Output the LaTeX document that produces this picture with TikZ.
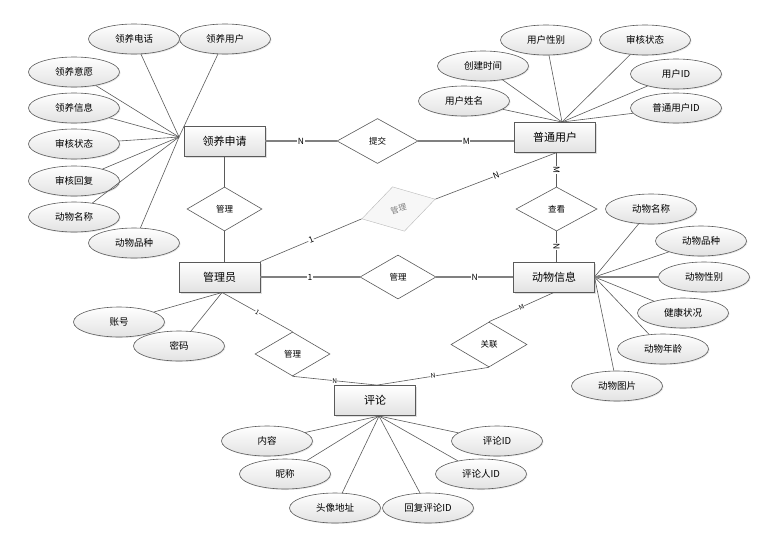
\documentclass[tikz,border=0pt]{standalone}
\usepackage{fontspec}
\setmainfont{Noto Sans CJK SC}
\usetikzlibrary{shapes.geometric,shadows,calc}
\definecolor{edge}{HTML}{5A5A5A}
\definecolor{shadegray}{HTML}{E2E2E2}
\begin{document}
\begin{tikzpicture}[x=1pt,y=-1pt,
 ent/.style={draw=edge, line width=0.8pt, rectangle, minimum width=81pt, minimum height=30pt, top color=white, bottom color=shadegray, font=\fontsize{11}{12}\selectfont, inner sep=0pt, drop shadow={opacity=0.25,shadow xshift=1.5pt,shadow yshift=-1.5pt}},
 attr/.style={draw=edge, line width=0.6pt, ellipse, minimum width=91pt, minimum height=30pt, top color=white, bottom color=shadegray, font=\fontsize{9.5}{10}\selectfont, inner sep=0pt, drop shadow={opacity=0.2,shadow xshift=1pt,shadow yshift=-1pt}},
 rel/.style={draw=edge, line width=0.6pt, diamond, fill=white, minimum width=78pt, minimum height=45pt, inner sep=0pt, font=\fontsize{8.5}{9}\selectfont},
 conn/.style={draw=edge, line width=0.6pt},
 mainconn/.style={draw=gray, line width=1.3pt},
 card/.style={fill=white, inner sep=0.5pt, font=\fontsize{8.5}{9}\selectfont},
 smallcard/.style={fill=white, inner sep=0.3pt, font=\fontsize{6.5}{7}\selectfont}
]
\useasboundingbox (0,0) rectangle (778,533);

% entities
\node[ent] (lysq) at (224.5,141) {领养申请};
\node[ent] (pt) at (555,137) {普通用户};
\node[ent] (gly) at (219.5,277) {管理员};
\node[ent] (dw) at (554,277) {动物信息};
\node[ent] (pl) at (375,400.5) {评论};

% relationships
\node[rel, minimum width=81pt] (tj) at (377.5,141) {提交};
\node[rel, minimum width=75pt, minimum height=44pt] (gl1) at (224.5,209) {管理};
\node[rel, minimum width=81pt, minimum height=44pt] (ck) at (556.5,209) {查看};
\node[rel, minimum width=76pt, minimum height=44pt] (gl2) at (398,277) {管理};
\node[rel, minimum width=75pt, minimum height=44pt] (gl3) at (292.5,354) {管理};
\node[rel, minimum width=76pt] (gll) at (489,344.5) {关联};
\node[diamond, draw=gray!55, fill=gray!6, text=gray, minimum width=76pt, minimum height=46pt, inner sep=0pt, rotate=15, font=\fontsize{8}{9}\selectfont] (gg) at (398.5,209) {管理};

% relationship connectors
\draw[mainconn] (lysq.east) -- node[card]{N} (tj.west);
\draw[mainconn] (tj.east) -- node[card]{M} (tj.east -| pt.west);
\draw[conn] (lysq.south) -- (gl1.north);
\draw[conn] (gl1.south) -- (gl1.south |- gly.north);
\draw[conn] (gly.north east) -- node[card, sloped]{1} (gg.west);
\draw[conn] (gg.east) -- node[card, sloped]{N} ($(pt.south)+(2,0)$);
\draw[conn] ($(pt.south)+(1.5,0)$) -- node[card, sloped]{M} (ck.north);
\draw[conn] (ck.south) -- node[card, sloped]{N} ($(dw.north)+(2.5,0)$);
\draw[mainconn] (gly.east) -- node[card]{1} (gl2.west);
\draw[mainconn] (gl2.east) -- node[card]{N} (dw.west);
\draw[conn] ($(gly.south)+(2.5,0)$) -- node[smallcard, sloped]{1} (gl3.north);
\draw[conn] (gl3.south) -- node[smallcard]{N} ($(pl.north)+(2,0)$);
\draw[conn] ($(pl.north)+(2,0)$) -- node[smallcard, sloped]{N} (gll.south);
\draw[conn] (gll.north) -- node[smallcard, sloped]{M} (dw.south);

% 领养申请 attributes
\coordinate (h1) at (179,137);
\node[attr] (a1) at (134,39) {领养电话};
\node[attr] (a2) at (225,39) {领养用户};
\node[attr] (a3) at (74,72) {领养意愿};
\node[attr] (a4) at (74,108) {领养信息};
\node[attr] (a5) at (74,144) {审核状态};
\node[attr] (a6) at (74,181) {审核回复};
\node[attr] (a7) at (74,217) {动物名称};
\node[attr] (a8) at (134,243) {动物品种};
\foreach \a in {a1,a2,a3,a4,a5,a6,a7,a8} \draw[conn] (\a) -- (h1);

% 普通用户 attributes
\coordinate (h2) at (562,122);
\node[attr] (b1) at (546,40) {用户性别};
\node[attr] (b2) at (645,40) {审核状态};
\node[attr] (b3) at (483,66) {创建时间};
\node[attr] (b4) at (676,74) {用户ID};
\node[attr] (b5) at (464,101) {用户姓名};
\node[attr] (b6) at (676,108) {普通用户ID};
\foreach \a in {b1,b2,b3,b4,b5,b6} \draw[conn] (\a) -- (h2);

% 动物信息 attributes
\coordinate (h3) at (594.5,277);
\node[attr] (c1) at (651,209) {动物名称};
\node[attr] (c2) at (701,241) {动物品种};
\node[attr] (c3) at (704,277) {动物性别};
\node[attr] (c4) at (683,313) {健康状况};
\node[attr] (c5) at (663,349) {动物年龄};
\node[attr] (c6) at (617,386) {动物图片};
\foreach \a in {c1,c2,c4,c5,c6} \draw[conn] (\a) -- (h3);
\draw[mainconn] (c3) -- (h3);

% 管理员 attributes
\coordinate (h4) at (222,292.5);
\node[attr] (d1) at (119,322) {账号};
\node[attr] (d2) at (179,346) {密码};
\draw[conn] (d1) -- (h4);
\draw[conn] (d2) -- (h4);

% 评论 attributes
\coordinate (h5) at (379,416);
\node[attr] (e1) at (267,441) {内容};
\node[attr] (e2) at (285,474) {昵称};
\node[attr] (e3) at (335,508) {头像地址};
\node[attr] (e4) at (428,508) {回复评论ID};
\node[attr] (e5) at (481,474) {评论人ID};
\node[attr] (e6) at (497,441) {评论ID};
\foreach \a in {e1,e2,e3,e4,e5,e6} \draw[conn] (\a) -- (h5);
\end{tikzpicture}
\end{document}
